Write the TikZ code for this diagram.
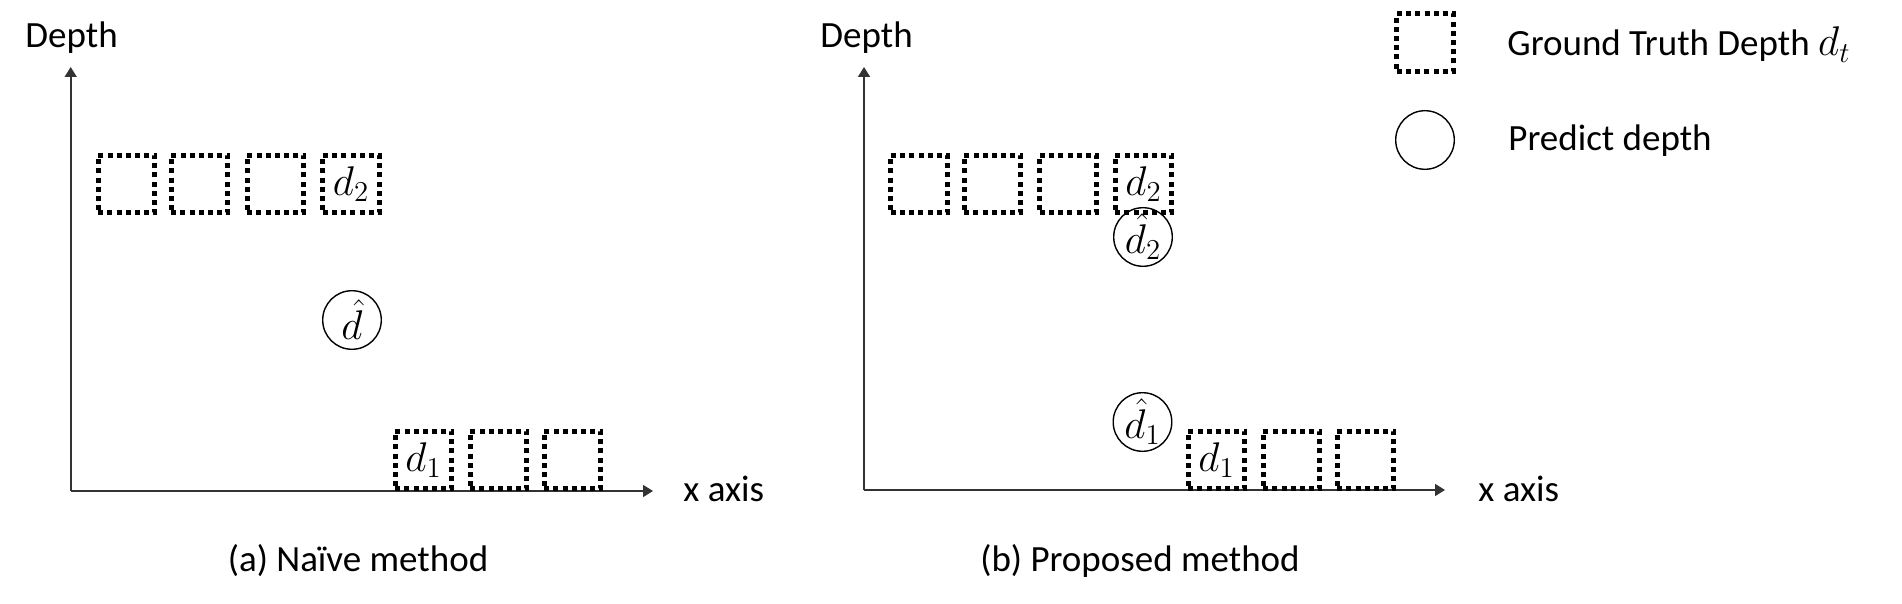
\documentclass[tikz,border=0pt]{standalone}
\usepackage{fontspec}
\setmainfont{Carlito}
\usetikzlibrary{arrows.meta}
\newcommand{\mth}[1]{{\fontsize{22pt}{26pt}\selectfont$#1$}}
\begin{document}
\begin{tikzpicture}[x=0.5pt,y=-0.5pt,
  font=\fontsize{18.5pt}{22pt}\selectfont,
  gtbox/.style={draw=black, line width=2.5pt, dash pattern=on 2.5pt off 2.1pt,
    minimum width=28.3pt, minimum height=28.8pt, inner sep=0pt},
  pred/.style={draw=black, circle, line width=0.7pt, minimum size=29.3pt, inner sep=0pt},
  axis/.style={draw=black!80, line width=0.8pt, -{Triangle[width=6pt,length=5pt]}},
  lbl/.style={inner sep=0pt}]
\useasboundingbox (0,0) rectangle (1902,604);

% ---------- panel (a) ----------
\coordinate (oa) at (70.7,491);
\coordinate (ya) at (70.7,67);
\coordinate (xa) at (653,491);
\draw[axis] (oa) -- (ya);
\draw[axis] (oa) -- (xa);
\node[lbl, anchor=base west] (depa) at (25,48) {Depth};
\node[lbl, anchor=base west] (xla) at (683,501) {x axis};
\node[lbl, anchor=base] (capa) at (358,571) {(a) Naïve method};

\node[gtbox] (au1) at (126.5,184) {};
\node[gtbox] (au2) at (199.5,184) {};
\node[gtbox] (au3) at (275.5,184) {};
\node[gtbox] (au4) at (351,184) {\mth{d_2}};
\node[gtbox] (al1) at (423.5,460) {\mth{d_1}};
\node[gtbox] (al2) at (498.5,460) {};
\node[gtbox] (al3) at (572.5,460) {};
\node[pred] (ap) at (352,320) {\mth{\hat{d}}};

% ---------- panel (b) ----------
\coordinate (ob) at (864,490);
\coordinate (yb) at (864,67);
\coordinate (xb) at (1445,490);
\draw[axis] (ob) -- (yb);
\draw[axis] (ob) -- (xb);
\node[lbl, anchor=base west] (depb) at (820,48) {Depth};
\node[lbl, anchor=base west] (xlb) at (1478,501) {x axis};
\node[lbl, anchor=base] (capb) at (1140,571) {(b) Proposed method};

\node[gtbox] (bu1) at (919,184) {};
\node[gtbox] (bu2) at (992.5,184) {};
\node[gtbox] (bu3) at (1068,184) {};
\node[gtbox] (bu4) at (1143.5,184) {\mth{d_2}};
\node[gtbox] (bl1) at (1216.5,460) {\mth{d_1}};
\node[gtbox] (bl2) at (1291.5,460) {};
\node[gtbox] (bl3) at (1365.5,460) {};
\node[pred] (bp2) at (1143,237) {\mth{\hat{d}_2}};
\node[pred] (bp1) at (1142.5,422) {\mth{\hat{d}_1}};

% ---------- legend ----------
\node[gtbox] (lgbox) at (1425,42.5) {};
\node[pred] (lgcirc) at (1425,140) {};
\node[lbl, anchor=base west] (lgt1) at (1507,56) {Ground Truth Depth \mth{d_t}};
\node[lbl, anchor=base west] (lgt2) at (1508,151) {Predict depth};
\end{tikzpicture}
\end{document}
